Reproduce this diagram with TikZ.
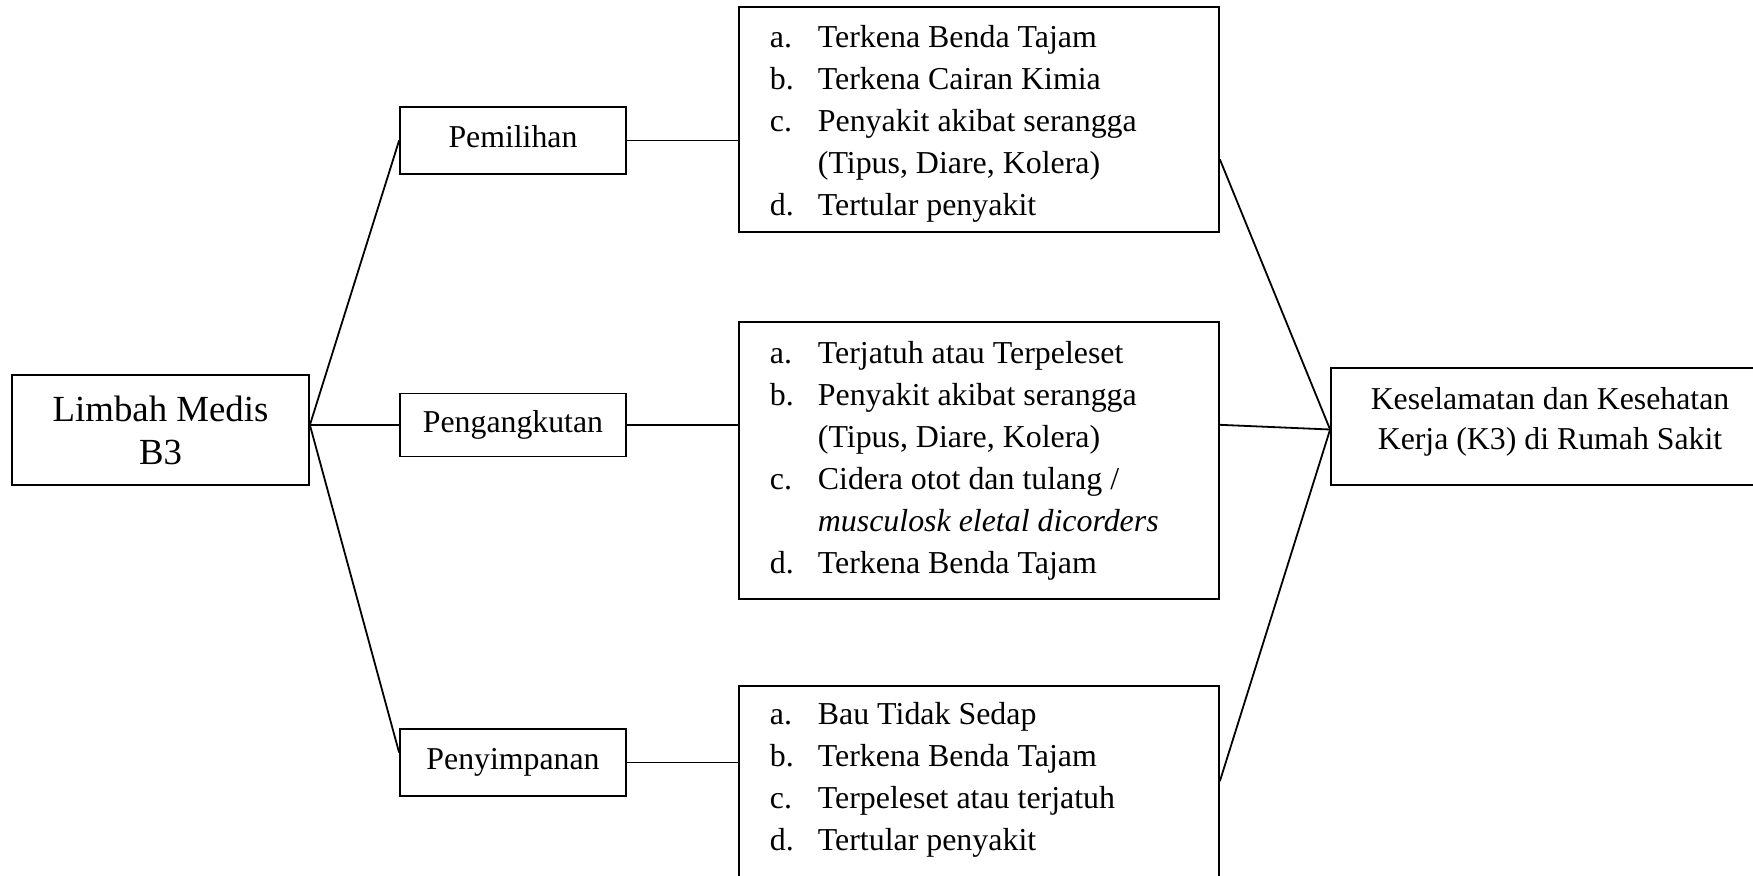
\documentclass[tikz,border=0pt]{standalone}
\usepackage{fontspec}
\setmainfont{Liberation Serif}
\usetikzlibrary{calc}
\begin{document}
\begin{tikzpicture}[x=0.5pt,y=-0.5pt,line width=0.9pt,
  boxnode/.style={draw, inner sep=0pt, align=center, font=\fontsize{15.9pt}{21.5pt}\selectfont},
  listbox/.style={draw, inner sep=0pt, minimum width=240pt},
  listtext/.style={inner sep=0pt, anchor=base west, font=\fontsize{15.95pt}{21pt}\selectfont},
  link/.style={line width=0.9pt}]
\useasboundingbox (0,0) rectangle (1753,875);
\clip (0,0) rectangle (1753,875);
% left node
\node[boxnode, minimum width=148.5pt, minimum height=55pt, font=\fontsize{18.4pt}{21.5pt}\selectfont] (limbah) at (160.5,430) {Limbah Medis\\B3};
% middle column
\node[boxnode, minimum width=113pt, minimum height=33.5pt] (pem) at (513,140.5) {\raisebox{1.75pt}[\height][\depth]{Pemilihan}};
\node[boxnode, minimum width=113pt, minimum height=31.5pt] (peng) at (513,425) {Pengangkutan};
\node[boxnode, minimum width=113pt, minimum height=33.5pt] (peny) at (513,762.5) {Penyimpanan};
% list boxes
\node[listbox, minimum height=112.5pt] (t1) at (979,119.5) {};
\node[listbox, minimum height=138.5pt] (t2) at (979,460.5) {};
\node[listbox, minimum height=110pt] (t3) at (979,796) {};
\node[listtext] (l1) at (769,47.5) {\begin{tabular}[t]{@{}p{24pt}@{}l@{}}
a. & Terkena Benda Tajam\\
b. & Terkena Cairan Kimia\\
c. & Penyakit akibat serangga\\
   & (Tipus, Diare, Kolera)\\
d. & Tertular penyakit
\end{tabular}};
\node[listtext] (l2) at (769,363) {\begin{tabular}[t]{@{}p{24pt}@{}l@{}}
a. & Terjatuh atau Terpeleset\\
b. & Penyakit akibat serangga\\
   & (Tipus, Diare, Kolera)\\
c. & Cidera otot dan tulang /\\
   & \textit{musculosk eletal dicorders}\\
d. & Terkena Benda Tajam
\end{tabular}};
\node[listtext] (l3) at (769,724) {\begin{tabular}[t]{@{}p{24pt}@{}l@{}}
a. & Bau Tidak Sedap\\
b. & Terkena Benda Tajam\\
c. & Terpeleset atau terjatuh\\
d. & Tertular penyakit
\end{tabular}};
% right node
\node[boxnode, minimum width=219pt, minimum height=58.5pt, font=\fontsize{15.9pt}{20pt}\selectfont] (k3) at (1550,426.5) {\raisebox{2.5pt}[\height][\depth]{\begin{tabular}{@{}c@{}}Keselamatan dan Kesehatan\\Kerja (K3) di Rumah Sakit\end{tabular}}};
% connectors left
\coordinate (j) at (limbah.east |- peng.west);
\draw[link] (j) -- (pem.west);
\draw[link] (j) -- (peng.west);
\draw[link] (j) -- ([yshift=5pt]peny.west);
\draw[link] (pem.east) -- (pem.east -| t1.west);
\draw[link] (peng.east) -- (peng.east -| t2.west);
\draw[link] (peny.east) -- (peny.east -| t3.west);
% connectors right
\draw[link] ($(t1.north east)!0.676!(t1.south east)$) -- ([yshift=-1.5pt]k3.west);
\draw[link] ($(t2.north east)!0.372!(t2.south east)$) -- ([yshift=-1.5pt]k3.west);
\draw[link] ([yshift=-48pt]t3.north east) -- ([yshift=-1.5pt]k3.west);
\end{tikzpicture}
\end{document}
